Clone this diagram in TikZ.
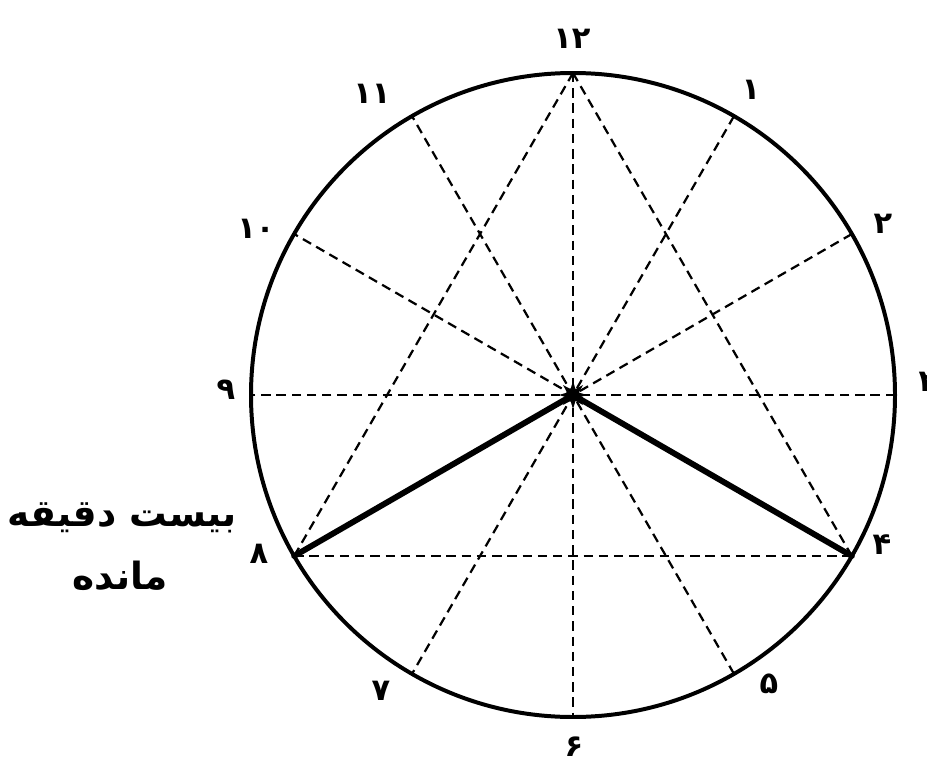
\documentclass[tikz,border=0pt]{standalone}
\usepackage{fontspec}
\newfontfamily\arabicfont[Script=Arabic]{DejaVu Sans}
\TeXXeTstate=1
\usetikzlibrary{shapes.geometric,calc}
\begin{document}
\begin{tikzpicture}[x=0.03cm,y=-0.03cm,
  rim/.style={line width=3.4pt},
  guide/.style={line width=1.9pt,dash pattern=on 8pt off 5pt},
  hand/.style={line width=5pt,line cap=round},
  hourlabel/.style={font=\arabicfont\bfseries\fontsize{26}{28}\selectfont,inner sep=0pt},
  note/.style={font=\arabicfont\bfseries\fontsize{32}{36}\selectfont,inner sep=0pt,align=center}]
\useasboundingbox (0,0) rectangle (927,764);
\coordinate (c) at (573,395);
\foreach \h in {1,...,12}{
  \coordinate (h\h) at ($(c)+({322*sin(30*\h)},{-322*cos(30*\h)})$);
}
% dashed guides: diameters and triangle
\foreach \a/\b in {h12/h6,h1/h7,h2/h8,h3/h9,h4/h10,h5/h11,h12/h8,h12/h4,h8/h4}{
  \draw[guide] (\a) -- (\b);
}
\draw[rim] (c) circle[radius=322];
\draw[hand] (c) -- (h8);
\draw[hand] (c) -- (h4);
\node[star,star points=8,star point ratio=2.2,fill=black,minimum size=24pt,inner sep=0pt] (hub) at (c) {};
% hour labels
\node[hourlabel] (l12) at (572,39) {۱۲};
\node[hourlabel] (l1) at (751,90) {۱};
\node[hourlabel] (l2) at (883,224) {۲};
\node[hourlabel] (l3) at (928,382) {۳};
\node[hourlabel] (l4) at (882,545) {۴};
\node[hourlabel] (l5) at (769,684) {۵};
\node[hourlabel] (l6) at (574,747) {۶};
\node[hourlabel] (l7) at (381,691) {۷};
\node[hourlabel] (l8) at (259,554) {۸};
\node[hourlabel] (l9) at (226,390) {۹};
\node[hourlabel] (l10) at (256,229) {۱۰};
\node[hourlabel] (l11) at (372,94) {۱۱};
\node[note] (t1) at (122,518) {\beginR بیست دقیقه\endR};
\node[note] (t2) at (120,576) {\beginR مانده\endR};
\end{tikzpicture}
\end{document}
